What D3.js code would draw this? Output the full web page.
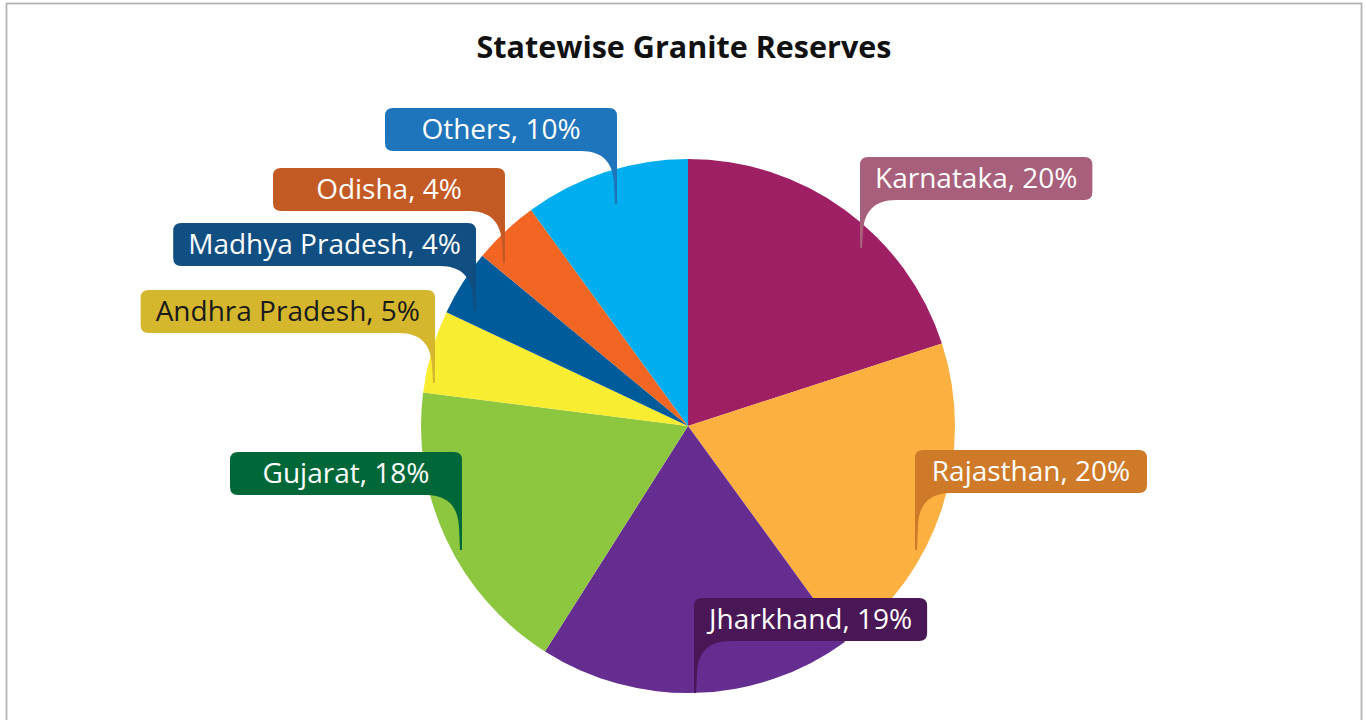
<!DOCTYPE html>
<html>
<head>
<meta charset="utf-8">
<script src="https://cdn.jsdelivr.net/npm/d3@7"></script>
<style>
  body { margin: 0; background: #fff; }
  .title { font-family: "Open Sans", sans-serif; font-weight: 700; }
  .lbl { font-family: "Open Sans", sans-serif; font-weight: 400; }
</style>
</head>
<body>
<div id="chart"></div>
<script>
// chart data
var states = ["Karnataka", "Rajasthan", "Jharkhand", "Gujarat", "Andhra Pradesh", "Madhya Pradesh", "Odisha", "Others"];
var shares = [20, 20, 19, 18, 5, 4, 4, 10];
var sliceColors = ["#9e1f63", "#fbb040", "#662d91", "#8dc63f", "#f9ed32", "#005b9a", "#f26522", "#00aeef"];
var boxColors = ["#a85f7b", "#cf7a29", "#4a1756", "#006838", "#d5b72e", "#114f82", "#c45a23", "#1f75bc"];
var textColors = ["#fff", "#fff", "#fff", "#fff", "#1a1a1a", "#fff", "#fff", "#fff"];

// callout placement: x of the tail edge, top of box, side of the tail, tail length
var callouts = [
  {x: 860, y: 157, side: "left", tail: 48},
  {x: 915, y: 450, side: "left", tail: 57},
  {x: 694, y: 598, side: "left", tail: 52},
  {x: 462, y: 452, side: "right", tail: 55},
  {x: 435, y: 290, side: "right", tail: 50},
  {x: 476, y: 223, side: "right", tail: 45},
  {x: 505, y: 168, side: "right", tail: 52},
  {x: 617, y: 108, side: "right", tail: 53}
];

var width = 1366, height = 720;
var cx = 688, cy = 426, radius = 267;

var svg = d3.select("#chart").append("svg")
    .attr("width", width)
    .attr("height", height);

// frame
svg.append("rect")
    .attr("x", 6.5).attr("y", 3.5)
    .attr("width", 1355).attr("height", 760)
    .attr("fill", "#fff")
    .attr("stroke", "#b4b4b4")
    .attr("stroke-width", 1.8);

svg.append("text")
    .attr("class", "title")
    .attr("x", 684).attr("y", 58)
    .attr("text-anchor", "middle")
    .attr("font-size", 30.5)
    .attr("fill", "#111")
    .text("Statewise Granite Reserves");

var pie = d3.pie().sort(null).value(function(d) { return d; });
var arc = d3.arc().innerRadius(0).outerRadius(radius);

var g = svg.append("g").attr("transform", "translate(" + cx + "," + cy + ")");
g.selectAll("path")
    .data(pie(shares))
  .enter().append("path")
    .attr("d", arc)
    .attr("fill", function(d, i) { return sliceColors[i]; });

// callout boxes
var boxH = 43, r = 8, minW = 232;

function calloutPath(x0, y0, w, h, side, L) {
  var x1 = x0 + w, y1 = y0 + h, p = d3.path();
  if (side == "left") {
    p.moveTo(x0 + r, y0);
    p.lineTo(x1 - r, y0);
    p.quadraticCurveTo(x1, y0, x1, y0 + r);
    p.lineTo(x1, y1 - r);
    p.quadraticCurveTo(x1, y1, x1 - r, y1);
    p.lineTo(x0 + 36, y1);
    p.bezierCurveTo(x0 + 14, y1, x0 + 4, y1 + 12, x0 + 3, y1 + 32);
    p.lineTo(x0 + 2, y1 + L);
    p.lineTo(x0, y1 + L);
    p.lineTo(x0, y0 + r);
    p.quadraticCurveTo(x0, y0, x0 + r, y0);
  } else {
    p.moveTo(x1 - r, y0);
    p.quadraticCurveTo(x1, y0, x1, y0 + r);
    p.lineTo(x1, y1 + L);
    p.lineTo(x1 - 2, y1 + L);
    p.lineTo(x1 - 3, y1 + 32);
    p.bezierCurveTo(x1 - 4, y1 + 12, x1 - 14, y1, x1 - 36, y1);
    p.lineTo(x0 + r, y1);
    p.quadraticCurveTo(x0, y1, x0, y1 - r);
    p.lineTo(x0, y0 + r);
    p.quadraticCurveTo(x0, y0, x0 + r, y0);
    p.lineTo(x1 - r, y0);
  }
  p.closePath();
  return p.toString();
}

var labels = svg.append("g").selectAll("g")
    .data(states)
  .enter().append("g");

labels.each(function(name, i) {
  var c = callouts[i];
  var grp = d3.select(this);
  var path = grp.append("path");
  var t = grp.append("text")
      .attr("class", "lbl")
      .attr("font-size", 28)
      .attr("fill", textColors[i])
      .attr("text-anchor", "middle")
      .text(name + ", " + shares[i] + "%");
  var tw = t.node().getComputedTextLength();
  var w = Math.max(minW, tw + 30);
  var x0 = c.side == "left" ? c.x : c.x - w;
  path.attr("d", calloutPath(x0, c.y, w, boxH, c.side, c.tail))
      .attr("fill", boxColors[i]);
  t.attr("x", x0 + w / 2).attr("y", c.y + 31);
});
</script>
</body>
</html>
